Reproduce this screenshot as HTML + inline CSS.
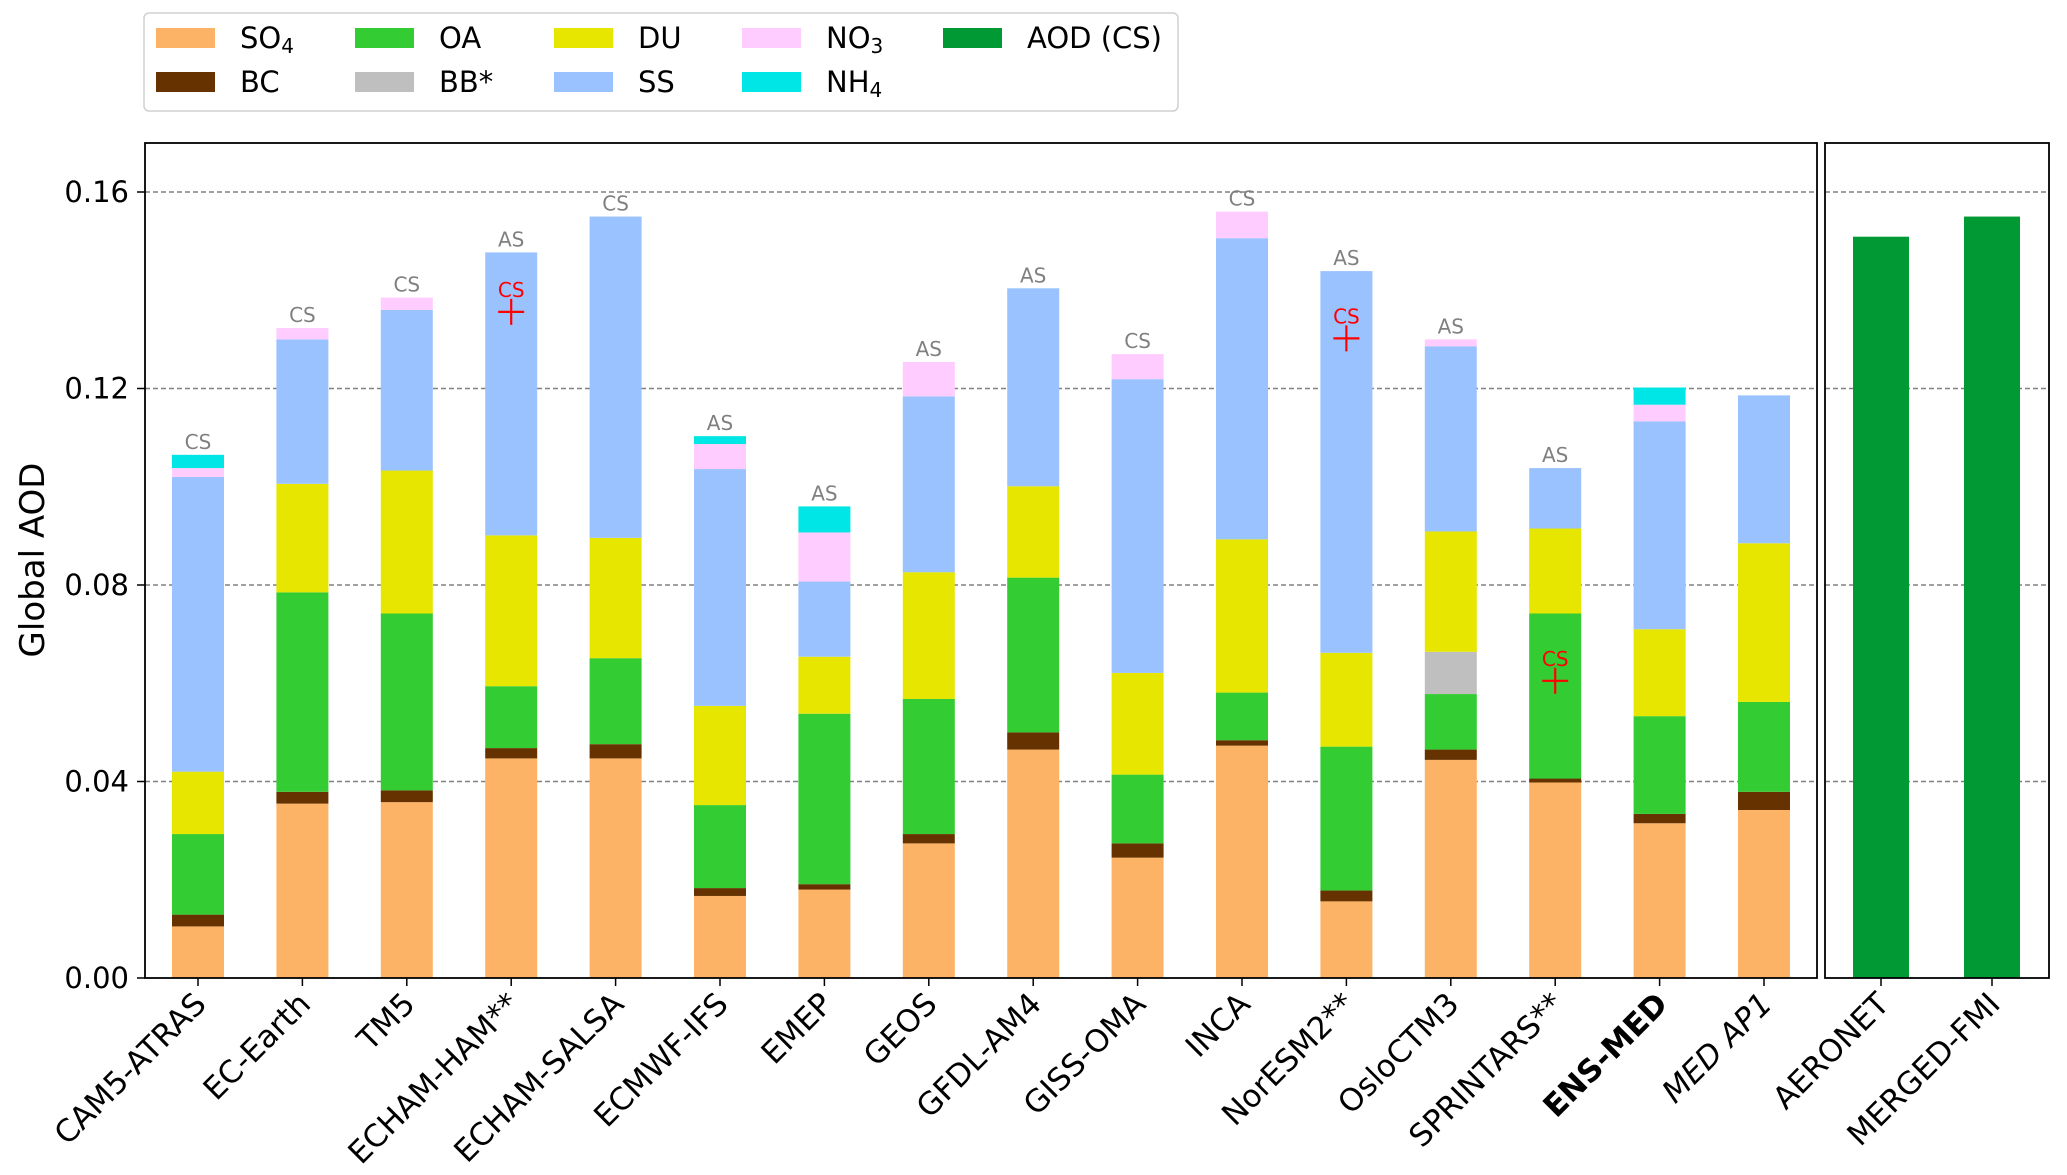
<!DOCTYPE html>
<html><head><meta charset="utf-8"><style>
body{margin:0;background:#fff;}
svg{display:block;font-family:"DejaVu Sans","Liberation Sans",sans-serif;}
</style></head><body>
<svg id="chart" width="2067" height="1175" viewBox="0 0 2067 1175">
<g id="legend"></g>
<g id="grid"></g>
<g id="bars"></g>
<g id="axes"></g>
<text x="33" y="560" font-size="34" text-anchor="middle" transform="rotate(-90 33 560)" dominant-baseline="central">Global AOD</text>
</svg>
<script>
const models = ["CAM5-ATRAS","EC-Earth","TM5","ECHAM-HAM**","ECHAM-SALSA","ECMWF-IFS","EMEP","GEOS","GFDL-AM4","GISS-OMA","INCA","NorESM2**","OsloCTM3","SPRINTARS**","ENS-MED","MED AP1"];
const so4 = [0.0105,0.0355,0.0358,0.0447,0.0447,0.0167,0.018,0.0274,0.0465,0.0245,0.0473,0.0156,0.0444,0.0398,0.0315,0.0342];
const bc  = [0.0024,0.0024,0.0024,0.0021,0.0029,0.0016,0.0011,0.0019,0.0035,0.0029,0.0011,0.0022,0.0021,0.0008,0.0019,0.0037];
const oa  = [0.0164,0.0406,0.036,0.0126,0.0175,0.0169,0.0347,0.0275,0.0315,0.014,0.0097,0.0293,0.0113,0.0336,0.0199,0.0183];
const bb  = [0,0,0,0,0,0,0,0,0,0,0,0,0.0086,0,0,0];
const du  = [0.0127,0.0221,0.0291,0.0307,0.0245,0.0202,0.0116,0.0258,0.0186,0.0207,0.0312,0.0191,0.0245,0.0173,0.0177,0.0323];
const ss  = [0.06,0.0294,0.0327,0.0576,0.0654,0.0482,0.0153,0.0358,0.0403,0.0598,0.0613,0.0777,0.0377,0.0123,0.0423,0.0301];
const no3 = [0.0018,0.0023,0.0025,0,0,0.0051,0.01,0.007,0,0.0051,0.0054,0,0.0014,0,0.0034,0];
const nh4 = [0.0027,0,0,0,0,0.0016,0.0053,0,0,0,0,0,0,0,0.0035,0];
const topLabels = ["CS","CS","CS","AS","CS","AS","AS","AS","AS","CS","CS","AS","AS","AS","",""];
const csModels = ["ECHAM-HAM**","NorESM2**","SPRINTARS**"];
const csValues = [0.1356,0.1302,0.0605];
const obsNames = ["AERONET","MERGED-FMI"];
const obsValues = [0.1509,0.155];
const yTicks = [0,0.04,0.08,0.12,0.16];
const yTickLabels = ["0.00","0.04","0.08","0.12","0.16"];

const NS="http://www.w3.org/2000/svg";
const C={so4:"#fdb366",bc:"#663300",oa:"#33cc33",bb:"#bfbfbf",du:"#e6e600",ss:"#99c2ff",no3:"#ffccff",nh4:"#00e6e6",aod:"#009933"};
const Y0=978, PX=196.5/0.04, TOP=143;
function y(v){return Y0 - v*PX;}
function xm(i){return 198 + i*104.4;}
function xo(i){return 1881 + i*111;}
function mk(tag,attrs,parent,text){const e=document.createElementNS(NS,tag);for(const k in attrs)e.setAttribute(k,attrs[k]);if(text!==undefined)e.textContent=text;parent.appendChild(e);return e;}
const grid=document.getElementById('grid'),bars=document.getElementById('bars'),axes=document.getElementById('axes'),legend=document.getElementById('legend');

yTicks.forEach((t,k)=>{ if(k===0) return;
  const l1=mk('line',{x1:145,x2:1817,y1:y(t),y2:y(t),stroke:'#808080','stroke-width':1.5,'stroke-dasharray':'5,3'},grid);
  
  
  const l2=mk('line',{x1:1825,x2:2049,y1:y(t),y2:y(t),stroke:'#808080','stroke-width':1.5,'stroke-dasharray':'5,3'},grid);
  
  
});

const series=[["so4",so4],["bc",bc],["oa",oa],["bb",bb],["du",du],["ss",ss],["no3",no3],["nh4",nh4]];
const BW=52;
const XF=31;
models.forEach((m,i)=>{
  let cum=0;
  series.forEach(([k,arr])=>{
    const v=arr[i]; if(v<=0) return;
    const r=mk('rect',{x:xm(i)-BW/2,y:y(cum+v),width:BW,height:v*PX,fill:C[k]},bars);
    
    
    cum+=v;
  });
  if(topLabels[i]){
    const t=mk('text',{x:xm(i),y:y(cum)-6,'font-size':20,fill:'#808080','text-anchor':'middle'},bars,topLabels[i]);
    
    
  }
  mk('line',{x1:xm(i),x2:xm(i),y1:Y0,y2:Y0+8,stroke:'#000','stroke-width':1.5},axes);
  const lx=xm(i)-6, ly=Y0+12;
  const tl=mk('text',{x:lx,y:ly,'font-size':XF,'text-anchor':'end','dominant-baseline':'hanging',transform:`rotate(-45 ${lx} ${ly})`},axes,m);
  if(m==="ENS-MED") tl.setAttribute('font-weight','bold');
  if(m==="MED AP1") tl.setAttribute('font-style','italic');
  
  
});
csModels.forEach((m,j)=>{
  const i=models.indexOf(m), cx=xm(i), cy=y(csValues[j]);
  const p=mk('path',{d:`M${cx-13} ${cy}H${cx+13}M${cx} ${cy-13}V${cy+13}`,stroke:'#ff0000','stroke-width':2.2,fill:'none'},bars);
  
  
  const t=mk('text',{x:cx,y:cy-15,'font-size':20,fill:'#ff0000','text-anchor':'middle'},bars,'CS');
  
  
});
obsNames.forEach((n,i)=>{
  const r=mk('rect',{x:xo(i)-28,y:y(obsValues[i]),width:56,height:obsValues[i]*PX,fill:C.aod},bars);
  
  
  mk('line',{x1:xo(i),x2:xo(i),y1:Y0,y2:Y0+8,stroke:'#000','stroke-width':1.5},axes);
  const lx=xo(i)-6, ly=Y0+12;
  const tl=mk('text',{x:lx,y:ly,'font-size':XF,'text-anchor':'end','dominant-baseline':'hanging',transform:`rotate(-45 ${lx} ${ly})`},axes,n);
  
  
});
const f1=mk('rect',{x:145,y:TOP,width:1817-145,height:Y0-TOP,fill:'none',stroke:'#000','stroke-width':1.8},axes);


const f2=mk('rect',{x:1825,y:TOP,width:2049-1825,height:Y0-TOP,fill:'none',stroke:'#000','stroke-width':1.8},axes);


yTicks.forEach((t,k)=>{
  mk('line',{x1:137,x2:145,y1:y(t),y2:y(t),stroke:'#000','stroke-width':1.5},axes);
  const tl=mk('text',{x:129,y:y(t),'font-size':29,'text-anchor':'end','dominant-baseline':'central'},axes,yTickLabels[k]);
  
  
});
const lb=mk('rect',{x:144,y:13,width:1034,height:98,rx:5,fill:'#fff',stroke:'#d0d0d0','stroke-width':1.5},legend);


const legItems=[["so4","SO","4",156,28],["bc","BC","",156,72],["oa","OA","",355,28],["bb","BB*","",355,72],["du","DU","",554,28],["ss","SS","",554,72],["no3","NO","3",742,28],["nh4","NH","4",742,72],["aod","AOD (CS)","",943,28]];
legItems.forEach(([k,lab,sub,x0,y0])=>{
  const g=mk('g',{},legend);
  
  
  mk('rect',{x:x0,y:y0,width:59,height:20,fill:C[k]},g);
  const t=mk('text',{x:x0+84,y:y0+10,'font-size':29,'dominant-baseline':'central'},g,lab);
  if(sub){mk('tspan',{'font-size':20,dy:8},t,sub);}
});
</script>
</body></html>
